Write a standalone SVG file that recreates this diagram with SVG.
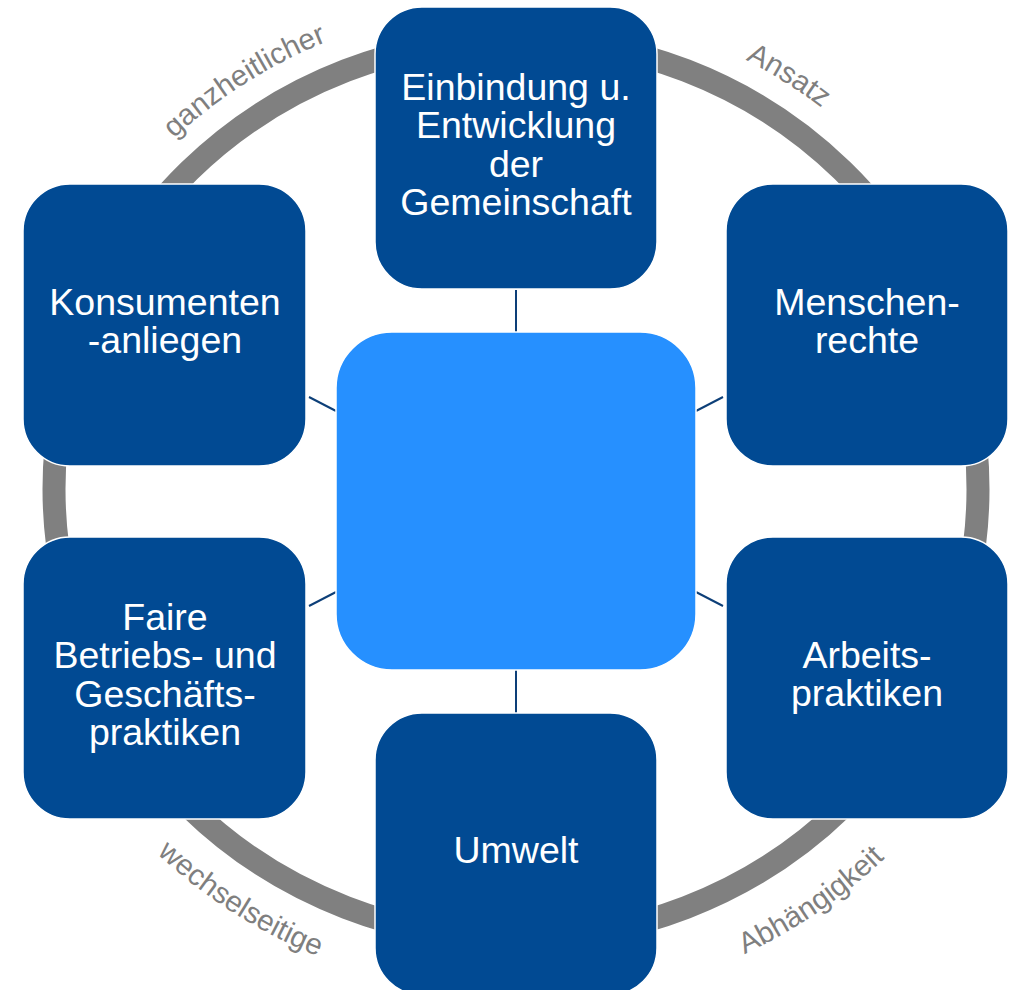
<svg xmlns="http://www.w3.org/2000/svg" width="1021" height="990" viewBox="0 0 1021 990">
  <style>
    .node { fill: #014a93; stroke: #ffffff; stroke-width: 1.5; }
    .hub { fill: #2690ff; stroke: #ffffff; stroke-width: 1.5; }
    .lbl { font-family: "Liberation Sans", Arial, sans-serif; font-size: 37.5px; fill: #ffffff; text-anchor: middle; }
    .ring-lbl { font-family: "Liberation Sans", Arial, sans-serif; font-size: 29.5px; fill: #7f7f7f; text-anchor: middle; }
    .conn line { stroke: #0d3f78; stroke-width: 2; }
  </style>
  <defs>
    <path id="arcTop" d="M 20 489 A 496 484 0 0 1 1012 489"/>
    <path id="arcBL" d="M -2 489 A 518 506 0 0 0 1034 489"/>
    <path id="arcBR" d="M -12 489 A 528 516 0 0 0 1044 489"/>
  </defs>
  <rect width="1021" height="990" fill="#ffffff"/>

  <g id="ring">
    <ellipse cx="516" cy="489" rx="462" ry="450" fill="none" stroke="#808080" stroke-width="23"/>
    <text class="ring-lbl"><textPath href="#arcTop" startOffset="31.5%">ganzheitlicher</textPath></text>
    <text class="ring-lbl"><textPath href="#arcTop" startOffset="68.4%">Ansatz</textPath></text>
    <text class="ring-lbl"><textPath href="#arcBL" startOffset="31.4%">wechselseitige</textPath></text>
    <text class="ring-lbl"><textPath href="#arcBR" startOffset="69.6%">Abhängigkeit</textPath></text>
  </g>

  <g id="connectors" class="conn">
    <line x1="516" y1="290" x2="516" y2="332"/>
    <line x1="516" y1="670" x2="516" y2="713"/>
    <line x1="309" y1="397" x2="336" y2="411"/>
    <line x1="723" y1="397" x2="696" y2="411"/>
    <line x1="309" y1="606" x2="336" y2="592"/>
    <line x1="723" y1="606" x2="696" y2="592"/>
  </g>

  <g id="hub">
    <rect class="hub" x="336" y="332" width="360" height="338" rx="56" ry="56"/>
  </g>

  <g id="node-gemeinschaft">
    <rect class="node" x="375" y="7" width="282" height="282" rx="47" ry="47"/>
    <text class="lbl" x="516" y="99.5">Einbindung u.</text>
    <text class="lbl" x="516" y="138">Entwicklung</text>
    <text class="lbl" x="516" y="176.5">der</text>
    <text class="lbl" x="516" y="215">Gemeinschaft</text>
  </g>

  <g id="node-menschenrechte">
    <rect class="node" x="726" y="184" width="282" height="282" rx="47" ry="47"/>
    <text class="lbl" x="867" y="314.5">Menschen-</text>
    <text class="lbl" x="867" y="353">rechte</text>
  </g>

  <g id="node-arbeitspraktiken">
    <rect class="node" x="726" y="537" width="282" height="282" rx="47" ry="47"/>
    <text class="lbl" x="867" y="667.5">Arbeits-</text>
    <text class="lbl" x="867" y="706">praktiken</text>
  </g>

  <g id="node-umwelt">
    <rect class="node" x="375" y="713" width="282" height="282" rx="47" ry="47"/>
    <text class="lbl" x="516" y="863">Umwelt</text>
  </g>

  <g id="node-faire">
    <rect class="node" x="23" y="537" width="283" height="282" rx="47" ry="47"/>
    <text class="lbl" x="165" y="629.5">Faire</text>
    <text class="lbl" x="165" y="668">Betriebs- und</text>
    <text class="lbl" x="165" y="706.5">Geschäfts-</text>
    <text class="lbl" x="165" y="745">praktiken</text>
  </g>

  <g id="node-konsumenten">
    <rect class="node" x="23" y="184" width="283" height="282" rx="47" ry="47"/>
    <text class="lbl" x="165" y="314.5">Konsumenten</text>
    <text class="lbl" x="165" y="353">-anliegen</text>
  </g>
</svg>
